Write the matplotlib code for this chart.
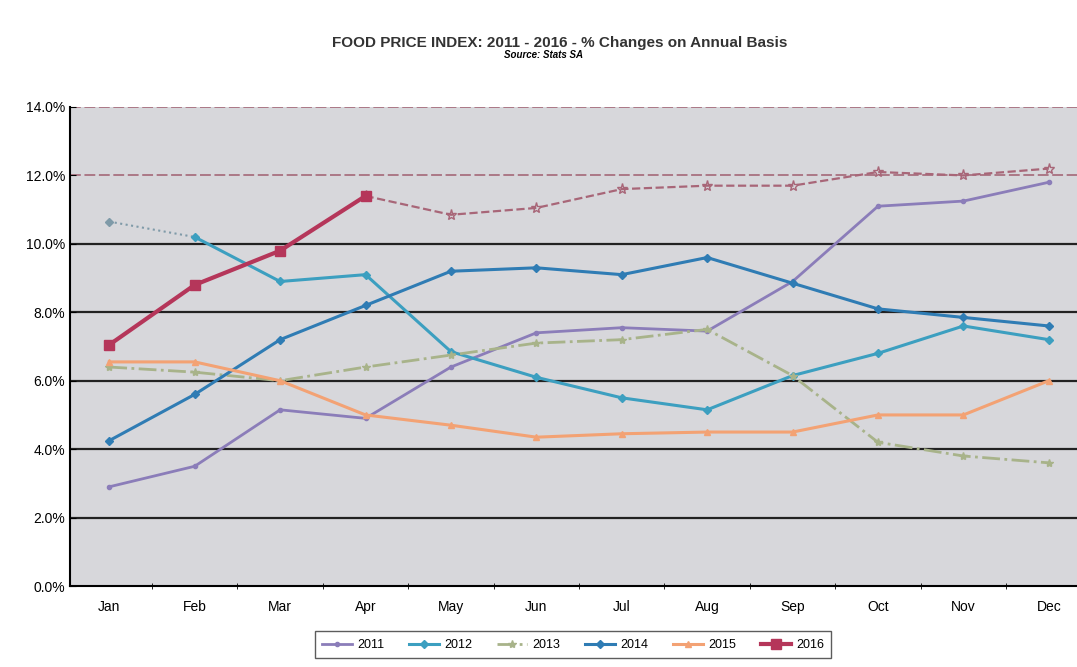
import matplotlib.pyplot as plt
import numpy as np

plt.rcParams['font.family'] = ['Liberation Sans', 'DejaVu Sans']

months = ['Jan', 'Feb', 'Mar', 'Apr', 'May', 'Jun', 'Jul', 'Aug', 'Sep', 'Oct', 'Nov', 'Dec']
y2011 = [2.9, 3.5, 5.15, 4.9, 6.4, 7.4, 7.55, 7.45, 8.9, 11.1, 11.25, 11.8]
y2012 = [10.65, 10.2, 8.9, 9.1, 6.85, 6.1, 5.5, 5.15, 6.15, 6.8, 7.6, 7.2]
y2013 = [6.4, 6.25, 6.0, 6.4, 6.75, 7.1, 7.2, 7.5, 6.15, 4.2, 3.8, 3.6]
y2014 = [4.25, 5.6, 7.2, 8.2, 9.2, 9.3, 9.1, 9.6, 8.85, 8.1, 7.85, 7.6]
y2015 = [6.55, 6.55, 6.0, 5.0, 4.7, 4.35, 4.45, 4.5, 4.5, 5.0, 5.0, 6.0]
y2016 = [7.05, 8.8, 9.8, 11.4]
# faint dashed continuation drawn on the scan (Apr - Dec)
y2016b = [11.4, 10.85, 11.05, 11.6, 11.7, 11.7, 12.1, 12.0, 12.2]

x = np.arange(len(months))

fig = plt.figure(figsize=(10.77, 6.67), dpi=100)
ax = fig.add_axes([0.065, 0.1214, 0.935, 0.7182])
ax.set_facecolor('#d7d7db')

# horizontal gridlines
for v in [2, 4, 6, 8, 10]:
    ax.axhline(v, color='#222222', lw=1.6, zorder=1)
for v in [12, 14]:
    ax.axhline(v, color='#a87080', lw=1.3, ls=(0, (6, 2)), zorder=1)

ax.plot(x, y2011, '-', color='#8b7db9', lw=2, marker='o', ms=3, label='2011', zorder=3)
ax.plot(x[:2], y2012[:2], ':', color='#7f9aa8', lw=1.5, zorder=3)
ax.plot(x[1:], y2012[1:], '-', color='#3c9fc0', lw=2.2, marker='D', ms=4, zorder=3)
ax.plot(x[:1], y2012[:1], 'D', color='#7f9aa8', ms=4, zorder=3)
ax.plot([], [], '-', color='#3c9fc0', lw=2.2, marker='D', ms=4, label='2012')
ax.plot(x, y2013, '-.', color='#a8b38a', lw=2, marker='*', ms=6, label='2013', zorder=3)
ax.plot(x, y2014, '-', color='#2f7cb4', lw=2.2, marker='D', ms=4, label='2014', zorder=3)
ax.plot(x, y2015, '-', color='#f3a274', lw=2.2, marker='^', ms=5, label='2015', zorder=3)
ax.plot(x[3:], y2016b, '--', color='#a86678', lw=1.6, marker='*', ms=8,
        mfc='none', mec='#a86678', zorder=3)
ax.plot(x[:4], y2016, '-', color='#b5365a', lw=3, marker='s', ms=7, label='2016', zorder=4)

ax.set_xlim(-0.46, 11.33)
ax.set_ylim(0, 14)
ax.set_yticks(np.arange(0, 15, 2))
ax.set_yticklabels(['{:.1f}%'.format(v) for v in np.arange(0, 15, 2)], fontsize=10)
ax.set_xticks(x)
ax.set_xticklabels(months, fontsize=10)
ax.set_xticks(x[:-1] + 0.5, minor=True)
ax.tick_params(axis='x', which='major', length=0, pad=10)
ax.tick_params(axis='x', which='minor', length=4, direction='inout')
ax.tick_params(axis='y', length=4, direction='in')

for s in ['top', 'right']:
    ax.spines[s].set_visible(False)
ax.spines['left'].set_linewidth(1.5)
ax.spines['bottom'].set_linewidth(1.5)

fig.text(0.52, 0.935, 'FOOD PRICE INDEX: 2011 - 2016 - % Changes on Annual Basis',
         ha='center', va='center', fontsize=11, fontweight='bold', color='#333333')
fig.text(0.505, 0.917, 'Source: Stats SA', ha='center', va='center', fontsize=7,
         fontweight='bold', style='italic')

leg = fig.legend(loc='center', bbox_to_anchor=(0.532, 0.033), ncol=6, fontsize=9,
                 frameon=True, fancybox=False, edgecolor='#333333',
                 handlelength=2.4, columnspacing=2.0, handletextpad=0.4, borderpad=0.6)
leg.get_frame().set_linewidth(1)

fig.savefig('out.png', dpi=100)
